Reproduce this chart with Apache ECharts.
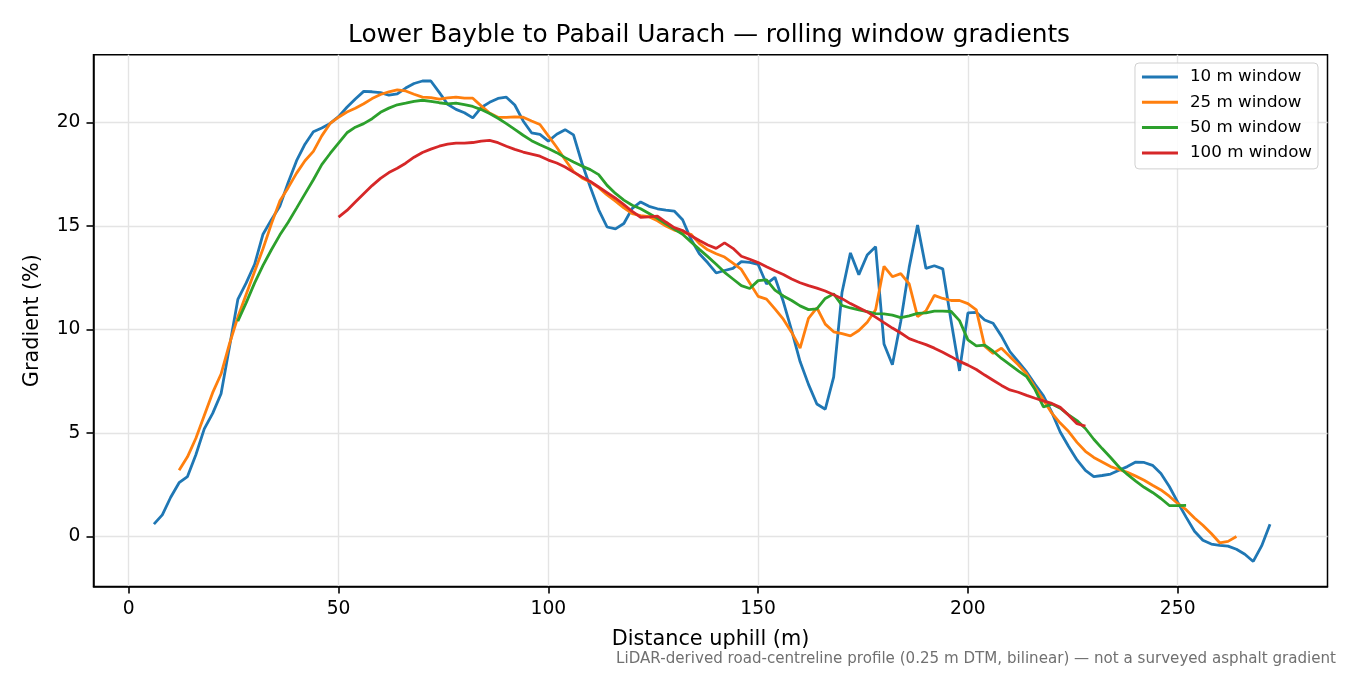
<!DOCTYPE html>
<html>
<head>
<meta charset="utf-8">
<title>Rolling window gradients</title>
<script src="https://cdn.jsdelivr.net/npm/echarts@6/dist/echarts.min.js"></script>
<style>
  html, body { margin: 0; padding: 0; background: #fff; }
  #chart { width: 1350px; height: 675px; }
</style>
</head>
<body>
<div id="chart"></div>
<script>
// distance uphill (m), sampled every 2 m
const distance = [6,8,10,12,14,16,18,20,22,24,26,28,30,32,34,36,38,40,42,44,46,48,50,52,54,56,58,60,62,64,
  66,68,70,72,74,76,78,80,82,84,86,88,90,92,94,96,98,100,102,104,106,108,110,112,114,116,118,120,122,124,
  126,128,130,132,134,136,138,140,142,144,146,148,150,152,154,156,158,160,162,164,166,168,170,172,174,176,178,180,182,184,
  186,188,190,192,194,196,198,200,202,204,206,208,210,212,214,216,218,220,222,224,226,228,230,232,234,236,238,240,242,244,
  246,248,250,252,254,256,258,260,262,264,266,268,270,272];

// gradient (%) per window, each starting at the given distance
const start10 = 6;
const grad10 = [0.6,1.05,1.9,2.6,2.9,3.95,5.2,5.95,6.9,9.15,
  11.45,12.25,13.15,14.6,15.3,15.95,17.1,18.15,18.95,19.55,
  19.73,19.95,20.28,20.73,21.13,21.5,21.48,21.44,21.32,21.38,
  21.66,21.88,22.0,22.0,21.45,20.88,20.63,20.47,20.22,20.72,
  20.97,21.16,21.22,20.84,20.07,19.5,19.42,19.1,19.43,19.65,
  19.4,18.04,16.88,15.78,14.95,14.86,15.12,15.85,16.16,15.95,
  15.83,15.77,15.72,15.3,14.36,13.66,13.22,12.73,12.85,12.95,
  13.28,13.24,13.14,12.2,12.52,11.35,9.95,8.45,7.35,6.4,
  6.15,7.7,11.8,13.7,12.65,13.6,14.0,9.3,8.3,10.4,
  13.0,15.04,12.95,13.08,12.93,10.4,8.0,10.8,10.83,10.46,
  10.3,9.68,8.93,8.45,7.95,7.35,6.8,6.0,5.05,4.35,
  3.7,3.2,2.9,2.95,3.02,3.2,3.38,3.6,3.58,3.44,
  3.05,2.42,1.66,0.94,0.26,-0.18,-0.36,-0.42,-0.46,-0.61,
  -0.85,-1.2,-0.45,0.6];

const start25 = 12;
const grad25 = [3.2,3.85,4.75,5.85,6.95,7.85,9.3,10.6,11.7,12.8,
  13.9,15.1,16.2,16.85,17.55,18.15,18.6,19.35,19.95,20.25,
  20.5,20.68,20.9,21.15,21.35,21.48,21.57,21.52,21.36,21.22,
  21.2,21.12,21.18,21.22,21.17,21.17,20.8,20.45,20.25,20.24,
  20.27,20.25,20.07,19.9,19.35,18.8,18.2,17.63,17.32,17.12,
  16.85,16.5,16.2,15.87,15.6,15.5,15.45,15.25,15.0,14.8,
  14.69,14.6,14.15,13.85,13.66,13.5,13.2,12.9,12.25,11.6,
  11.47,11.0,10.5,9.86,9.1,10.54,11.05,10.26,9.89,9.8,
  9.69,9.95,10.35,10.95,13.05,12.55,12.7,12.2,10.62,10.9,
  11.65,11.5,11.4,11.4,11.25,10.95,9.2,8.85,9.1,8.69,
  8.3,7.85,7.2,6.6,5.96,5.48,5.07,4.55,4.12,3.82,
  3.6,3.38,3.24,3.1,2.92,2.72,2.48,2.25,1.95,1.6,
  1.3,0.9,0.55,0.15,-0.3,-0.23,0.0];

const start50 = 26;
const grad50 = [10.4,11.3,12.25,13.1,13.85,14.56,15.18,15.86,16.55,17.23,
  17.96,18.5,19.0,19.5,19.77,19.94,20.18,20.49,20.69,20.85,
  20.93,21.02,21.07,21.02,20.95,20.9,20.93,20.86,20.77,20.62,
  20.43,20.2,19.94,19.66,19.38,19.12,18.92,18.74,18.54,18.3,
  18.09,17.89,17.72,17.48,16.96,16.57,16.25,16.0,15.83,15.6,
  15.37,15.1,14.85,14.6,14.23,13.87,13.52,13.15,12.76,12.44,
  12.12,11.98,12.36,12.4,11.9,11.62,11.4,11.14,10.96,11.0,
  11.5,11.72,11.16,11.04,10.95,10.86,10.77,10.75,10.69,10.57,
  10.66,10.78,10.8,10.89,10.89,10.87,10.43,9.5,9.21,9.25,
  8.95,8.6,8.3,8.0,7.72,7.1,6.26,6.4,6.2,5.88,
  5.6,5.22,4.7,4.25,3.82,3.36,3.0,2.68,2.38,2.13,
  1.84,1.5,1.5,1.51];

const start100 = 50;
const grad100 = [15.43,15.75,16.16,16.56,16.95,17.3,17.58,17.79,18.03,18.32,
  18.55,18.71,18.85,18.95,19.0,19.0,19.03,19.1,19.13,19.02,
  18.85,18.7,18.57,18.47,18.37,18.18,18.04,17.85,17.6,17.37,
  17.15,16.88,16.61,16.34,16.03,15.7,15.42,15.44,15.48,15.19,
  14.92,14.78,14.53,14.3,14.08,13.92,14.18,13.92,13.54,13.39,
  13.23,13.03,12.84,12.66,12.44,12.26,12.12,12.0,11.86,11.68,
  11.49,11.25,11.05,10.85,10.6,10.33,10.07,9.83,9.56,9.41,
  9.27,9.1,8.9,8.69,8.46,8.28,8.07,7.8,7.55,7.3,
  7.08,6.97,6.82,6.68,6.55,6.43,6.24,5.86,5.45,5.33];

const seriesNames = ['10 m window', '25 m window', '50 m window', '100 m window'];
const xTicks = [0, 50, 100, 150, 200, 250];
const yTicks = [0, 5, 10, 15, 20];

// pair each value with its distance
function toPairs(start, vals) {
  const off = distance.indexOf(start);
  return vals.map((v, i) => [distance[off + i], v]);
}

const colors = ['#1f77b4', '#ff7f0e', '#2ca02c', '#d62728'];
const font = 'DejaVu Sans';

const chart = echarts.init(document.getElementById('chart'));

const lineSeries = (name, data) => ({
  name: name,
  type: 'line',
  data: data,
  showSymbol: false,
  symbol: 'none',
  lineStyle: { width: 2.8 },
  emphasis: { disabled: true }
});

chart.setOption({
  animation: false,
  color: colors,
  textStyle: { fontFamily: font, color: '#000' },
  title: [
    {
      text: 'Lower Bayble to Pabail Uarach \u2014 rolling window gradients',
      left: 348, top: 23, padding: 0,
      textStyle: { fontFamily: font, fontSize: 24.8, fontWeight: 'normal', color: '#000' }
    },
    {
      text: 'LiDAR-derived road-centreline profile (0.25 m DTM, bilinear) \u2014 not a surveyed asphalt gradient',
      right: 14, top: 652, padding: 0,
      textStyle: { fontFamily: font, fontSize: 15.1, fontWeight: 'normal', color: '#707070' }
    }
  ],
  legend: {
    data: seriesNames,
    orient: 'vertical',
    right: 32, top: 63,
    icon: 'rect',
    itemWidth: 36, itemHeight: 3,
    itemGap: 5.3,
    padding: [4, 6, 6, 7],
    backgroundColor: 'rgba(255,255,255,0.85)',
    borderColor: '#d0d0d0', borderWidth: 1, borderRadius: 4,
    textStyle: { fontFamily: font, fontSize: 16.7, color: '#000', lineHeight: 20, padding: [0, 0, 0, 7] }
  },
  grid: {
    left: 93.5, right: 22.5, top: 54.7, bottom: 88.5,
    show: true, borderColor: '#000', borderWidth: 1.5, backgroundColor: 'transparent'
  },
  xAxis: {
    type: 'value',
    min: -8.4, max: 285.7, splitNumber: 5,
    name: 'Distance uphill (m)', nameLocation: 'middle', nameGap: 43,
    nameTextStyle: { fontFamily: font, fontSize: 20.8, color: '#000' },
    axisLine: { show: true, onZero: false, lineStyle: { color: '#000', width: 1.5 } },
    axisTick: { show: true, inside: false, length: 7, customValues: xTicks, lineStyle: { color: '#000', width: 1.6 } },
    axisLabel: { customValues: xTicks, fontFamily: font, fontSize: 18.7, color: '#000', margin: 13 },
    splitLine: { show: true, lineStyle: { color: '#e4e4e4', width: 1.4 } }
  },
  yAxis: {
    type: 'value',
    min: -2.41, max: 23.27, splitNumber: 5,
    name: 'Gradient (%)', nameLocation: 'middle', nameGap: 50,
    nameTextStyle: { fontFamily: font, fontSize: 20.8, color: '#000' },
    axisLine: { show: true, onZero: false, lineStyle: { color: '#000', width: 1.5 } },
    axisTick: { show: true, inside: false, length: 7, customValues: yTicks, lineStyle: { color: '#000', width: 1.6 } },
    axisLabel: { customValues: yTicks, fontFamily: font, fontSize: 18.7, color: '#000', margin: 13 },
    splitLine: { show: true, lineStyle: { color: '#e4e4e4', width: 1.4 } }
  },
  series: [
    lineSeries(seriesNames[0], toPairs(start10, grad10)),
    lineSeries(seriesNames[1], toPairs(start25, grad25)),
    lineSeries(seriesNames[2], toPairs(start50, grad50)),
    lineSeries(seriesNames[3], toPairs(start100, grad100))
  ]
});
</script>
</body>
</html>
